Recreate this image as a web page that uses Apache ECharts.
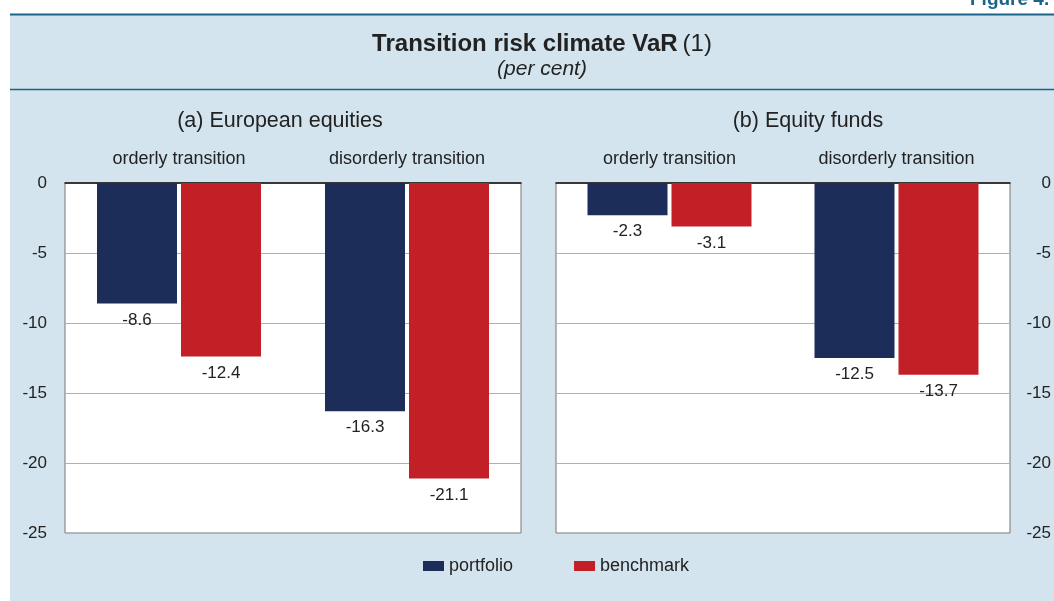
<!DOCTYPE html>
<html>
<head>
<meta charset="utf-8">
<script src="https://cdn.jsdelivr.net/npm/echarts@6/dist/echarts.min.js"></script>
<style>
  html, body { margin: 0; padding: 0; background: #fff; }
  #main { width: 1054px; height: 601px; }
</style>
</head>
<body>
<div id="main"></div>
<script>
var categories = ['orderly transition', 'disorderly transition'];
var seriesNames = ['portfolio', 'benchmark'];
// (a) European equities
var equitiesPortfolio = [-8.6, -16.3];
var equitiesBenchmark = [-12.4, -21.1];
// (b) Equity funds
var fundsPortfolio = [-2.3, -12.5];
var fundsBenchmark = [-3.1, -13.7];
var yTicks = [0, -5, -10, -15, -20, -25];

var navy = '#1c2d5a';
var red = '#c22026';
var font = '"Liberation Sans", Arial, sans-serif';

var myChart = echarts.init(document.getElementById('main'));

function barSeries(name, data, idx, color) {
    return {
        name: name,
        type: 'bar',
        xAxisIndex: idx,
        yAxisIndex: idx,
        data: data,
        barWidth: 80,
        barGap: '5%',
        itemStyle: { color: color },
        label: {
            show: true,
            position: 'bottom',
            distance: 8,
            color: '#222',
            fontSize: 17,
            fontFamily: font
        }
    };
}

function xAx(idx) {
    return {
        type: 'category',
        gridIndex: idx,
        data: categories,
        position: 'top',
        axisLine: { show: true, onZero: false, lineStyle: { color: '#111', width: 1.5 } },
        axisTick: { show: false },
        axisLabel: { margin: 15, color: '#222', fontSize: 18, fontFamily: font }
    };
}

function yAx(idx, pos) {
    return {
        type: 'value',
        gridIndex: idx,
        position: pos,
        min: -25,
        max: 0,
        interval: 5,
        axisLine: { show: false },
        axisTick: { show: false },
        splitLine: { lineStyle: { color: '#b0b0b0' } },
        axisLabel: pos === 'left'
            ? { margin: 18, color: '#222', fontSize: 17, fontFamily: font }
            : { margin: 41, align: 'right', color: '#222', fontSize: 17, fontFamily: font }
    };
}

option = {
    backgroundColor: '#fff',
    animation: false,
    textStyle: { fontFamily: font },
    graphic: [
        { type: 'rect', z: -10, shape: { x: 10, y: 15, width: 1044, height: 586 }, style: { fill: '#d3e4ee' } },
        { type: 'line', shape: { x1: 10, y1: 14.5, x2: 1054, y2: 14.5 }, style: { stroke: '#1b6388', lineWidth: 2 } },
        { type: 'line', shape: { x1: 10, y1: 89.5, x2: 1054, y2: 89.5 }, style: { stroke: '#1b6388', lineWidth: 1.5 } },
        { type: 'text', left: 970, top: -10, style: { text: 'Figure 4.', fill: '#1b6388', font: 'bold 19px ' + font } }
    ],
    title: [
        {
            text: '{b|Transition risk climate VaR} {n|(1)}',
            subtext: '(per cent)',
            left: 537,
            textAlign: 'center',
            top: 27,
            itemGap: 3,
            textStyle: {
                rich: {
                    b: { fontSize: 24, fontWeight: 'bold', color: '#222', fontFamily: font },
                    n: { fontSize: 24, fontWeight: 'normal', color: '#222', fontFamily: font }
                }
            },
            subtextStyle: { fontSize: 21, fontStyle: 'italic', color: '#222', fontFamily: font }
        },
        {
            text: '(a) European equities',
            left: 275,
            textAlign: 'center',
            top: 105,
            textStyle: { fontSize: 21.5, fontWeight: 'normal', color: '#222', fontFamily: font }
        },
        {
            text: '(b) Equity funds',
            left: 803,
            textAlign: 'center',
            top: 105,
            textStyle: { fontSize: 21.5, fontWeight: 'normal', color: '#222', fontFamily: font }
        }
    ],
    legend: {
        data: seriesNames,
        icon: 'rect',
        left: 423,
        top: 557,
        padding: 0,
        itemWidth: 21,
        itemHeight: 10,
        itemGap: 61,
        textStyle: { fontSize: 18, color: '#222', fontFamily: font }
    },
    grid: [
        { left: 65, width: 456, top: 183, height: 350, show: true, backgroundColor: '#fff', borderColor: '#777', borderWidth: 1 },
        { left: 556, width: 456, top: 183, height: 350, show: true, backgroundColor: '#fff', borderColor: '#777', borderWidth: 1 }
    ],
    xAxis: [xAx(0), xAx(1)],
    yAxis: [yAx(0, 'left'), yAx(1, 'right')],
    series: [
        barSeries(seriesNames[0], equitiesPortfolio, 0, navy),
        barSeries(seriesNames[1], equitiesBenchmark, 0, red),
        barSeries(seriesNames[0], fundsPortfolio, 1, navy),
        barSeries(seriesNames[1], fundsBenchmark, 1, red)
    ]
};
myChart.setOption(option);
</script>
</body>
</html>
